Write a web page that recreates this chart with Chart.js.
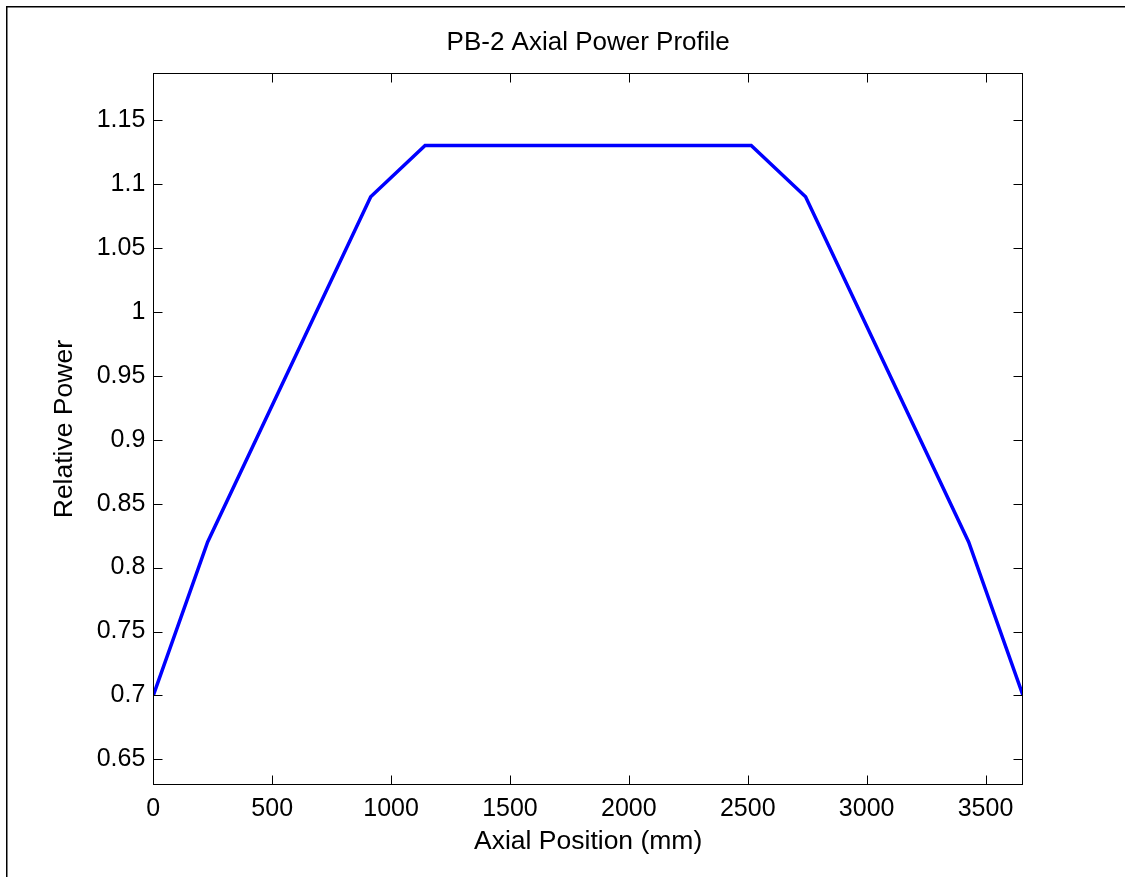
<!DOCTYPE html>
<html>
<head>
<meta charset="utf-8">
<title>PB-2 Axial Power Profile</title>
<script src="https://cdn.jsdelivr.net/npm/chart.js@4/dist/chart.umd.min.js"></script>
<style>
  html, body { margin: 0; padding: 0; background: #fff; }
  #wrap { width: 1125px; height: 877px; position: relative; }
</style>
</head>
<body>
<div id="wrap"><canvas id="profile"></canvas></div>
<script>
// axial positions (mm) along the 12 ft core and the relative power at each
const positions = [0, 228.6, 914.4, 1143, 2514.6, 2743.2, 3429, 3657.6];
const relPower = [0.70, 0.82, 1.09, 1.13, 1.13, 1.09, 0.82, 0.70];

const xTicks = [0, 500, 1000, 1500, 2000, 2500, 3000, 3500];
const yTicks = [0.65, 0.7, 0.75, 0.8, 0.85, 0.9, 0.95, 1, 1.05, 1.1, 1.15];
const xLimits = [0, 3657.6];
const yLimits = [0.63, 1.1865];

const chartTitle = 'PB-2 Axial Power Profile';

const FONT = '"Liberation Sans", Arial, Helvetica, sans-serif';
const AXIS_COLOR = '#000';

// box round the axes with inward tick marks on all four sides, the title
// centred over the plot area, and the figure frame
const axesBox = {
  id: 'axesBox',
  afterDraw(chart) {
    const { ctx, chartArea: a, scales } = chart;
    const L = Math.round(a.left) + 0.5, R = Math.round(a.right) - 0.5;
    const T = Math.round(a.top) + 0.5, B = Math.round(a.bottom) - 0.5;
    const len = 9;
    ctx.save();
    ctx.strokeStyle = AXIS_COLOR;
    ctx.lineWidth = 1;
    ctx.strokeRect(L, T, R - L, B - T);
    ctx.beginPath();
    xTicks.forEach(v => {
      const x = Math.round(scales.x.getPixelForValue(v)) + 0.5;
      ctx.moveTo(x, B); ctx.lineTo(x, B - len);
      ctx.moveTo(x, T); ctx.lineTo(x, T + len);
    });
    yTicks.forEach(v => {
      const y = Math.round(scales.y.getPixelForValue(v)) + 0.5;
      ctx.moveTo(L, y); ctx.lineTo(L + len, y);
      ctx.moveTo(R, y); ctx.lineTo(R - len, y);
    });
    ctx.stroke();

    ctx.fillStyle = '#000';
    ctx.font = '26px ' + FONT;
    ctx.textAlign = 'center';
    ctx.textBaseline = 'middle';
    ctx.fillText(chartTitle, (a.left + a.right) / 2, 43);

    ctx.lineWidth = 1.5;
    ctx.strokeRect(6.75, 6.75, chart.width + 20, chart.height + 20);
    ctx.restore();
  }
};

new Chart(document.getElementById('profile'), {
  type: 'line',
  plugins: [axesBox],
  data: {
    datasets: [{
      data: positions.map((p, i) => ({ x: p, y: relPower[i] })),
      borderColor: '#0000ff',
      borderWidth: 3.5,
      pointRadius: 0,
      tension: 0,
      fill: false
    }]
  },
  options: {
    responsive: true,
    maintainAspectRatio: false,
    animation: false,
    layout: { padding: { left: 0, right: 102, top: 73.3, bottom: 0 } },
    plugins: {
      legend: { display: false },
      tooltip: { enabled: false },
      title: { display: false }
    },
    scales: {
      x: {
        type: 'linear',
        min: xLimits[0],
        max: xLimits[1],
        afterBuildTicks: s => { s.ticks = xTicks.map(v => ({ value: v })); },
        afterFit: s => { s.height = 92; },
        grid: { display: false, drawTicks: false },
        border: { display: false },
        ticks: {
          color: '#000',
          padding: 9,
          maxRotation: 0,
          font: { family: FONT, size: 25 },
          callback: v => String(v)
        },
        title: {
          display: true,
          text: 'Axial Position (mm)',
          color: '#000',
          font: { family: FONT, size: 26.5 },
          padding: { top: 0, bottom: 19 }
        }
      },
      y: {
        min: yLimits[0],
        max: yLimits[1],
        afterBuildTicks: s => { s.ticks = yTicks.map(v => ({ value: v })); },
        afterFit: s => { s.width = 153.3; },
        grid: { display: false, drawTicks: false },
        border: { display: false },
        ticks: {
          color: '#000',
          padding: 8,
          font: { family: FONT, size: 25 },
          callback: v => String(v)
        },
        title: {
          display: true,
          text: 'Relative Power',
          color: '#000',
          font: { family: FONT, size: 26.5 },
          padding: { top: 49, bottom: 0 }
        }
      }
    }
  }
});
</script>
</body>
</html>
